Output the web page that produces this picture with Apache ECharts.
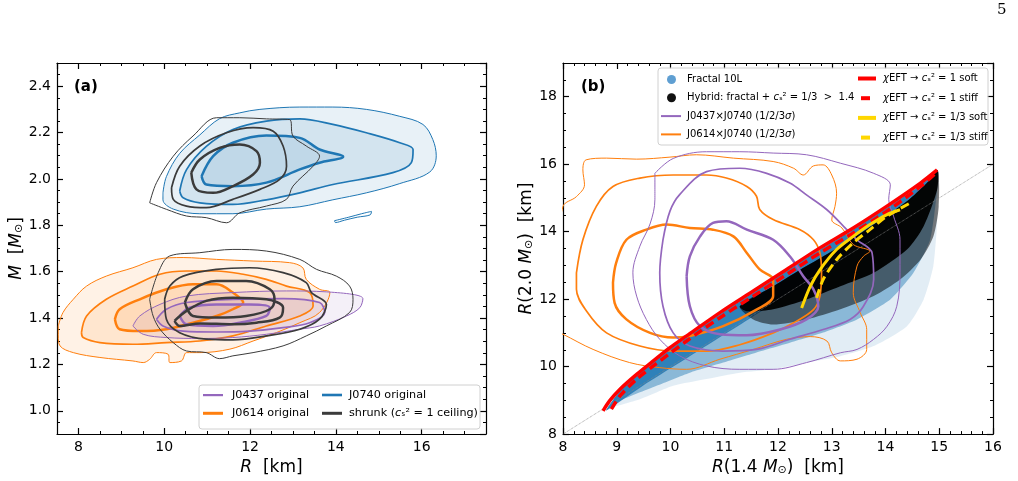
<!DOCTYPE html>
<html>
<head>
<meta charset="utf-8">
<script src="https://cdn.jsdelivr.net/npm/echarts@6/dist/echarts.min.js"></script>
<style>html,body{margin:0;background:#fff}#chart{width:1018px;height:481px}</style>
</head>
<body>
<div id="chart"></div>
<script>
var FONT = 'DejaVu Sans';
var PURPLE = '#9467bd', ORANGE = '#ff7f0e', BLUE = '#1f77b4', SHRUNK = '#3b3b3b';
var RED = '#ff0000', GOLD = '#ffd700';

// ---- panel (a): M-R contours, points are [R km, M Msun] ----
var j0740L3 = [[9.97,1.94],[10.05,2.01],[10.36,2.11],[10.83,2.19],[11.29,2.26],[11.76,2.285],[12.23,2.30],[13.16,2.31],[13.93,2.31],[14.71,2.30],[15.49,2.27],[16.03,2.235],[16.26,2.17],[16.34,2.10],[16.19,2.03],[15.49,1.98],[14.71,1.94],[13.93,1.91],[13.16,1.88],[12.38,1.87],[11.60,1.85],[10.83,1.85],[10.21,1.87],[9.97,1.91]];
var j0740Island = [[13.97,1.82],[14.3,1.835],[14.6,1.85],[14.83,1.86],[14.8,1.845],[14.5,1.835],[14.2,1.822],[13.99,1.812]];
var j0740L2 = [[10.36,1.948],[10.52,2.04],[10.98,2.14],[11.60,2.213],[12.38,2.249],[13.16,2.259],[13.93,2.235],[14.71,2.199],[15.49,2.156],[15.80,2.127],[15.76,2.07],[15.33,2.027],[13.93,1.976],[13.16,1.94],[12.38,1.91],[11.60,1.89],[10.83,1.897],[10.44,1.919]];
var j0740L1 = [[10.87,2.012],[11.14,2.098],[11.60,2.156],[12.38,2.187],[13.16,2.177],[13.62,2.127],[14.17,2.096],[13.62,2.07],[13.16,2.041],[12.38,1.984],[11.60,1.969],[10.98,1.976]];
var shrunkHiL3 = [[9.66,1.897],[9.82,1.984],[10.21,2.098],[10.67,2.185],[11.22,2.264],[11.76,2.264],[12.38,2.259],[12.92,2.256],[13.00,2.185],[13.31,2.142],[13.62,2.098],[13.47,2.055],[13.00,1.969],[12.85,1.912],[12.38,1.883],[11.76,1.854],[11.45,1.811],[10.98,1.833],[10.52,1.84],[10.05,1.869]];
var shrunkHiL2 = [[10.17,1.962],[10.36,2.055],[10.83,2.142],[11.45,2.199],[12.07,2.221],[12.54,2.206],[12.77,2.142],[12.85,2.055],[12.69,1.998],[12.23,1.955],[11.60,1.912],[10.98,1.876],[10.52,1.883],[10.21,1.912]];
var shrunkHiL1 = [[10.63,2.027],[10.83,2.084],[11.29,2.134],[11.76,2.149],[12.15,2.12],[12.23,2.07],[12.07,2.019],[11.60,1.969],[11.14,1.94],[10.75,1.955]];
var j0614L3 = [[7.53,1.366],[7.64,1.424],[7.88,1.481],[8.19,1.538],[8.65,1.581],[9.27,1.617],[9.82,1.653],[10.44,1.661],[11.22,1.653],[12.07,1.646],[12.92,1.639],[13.23,1.617],[13.31,1.567],[13.62,1.524],[13.86,1.51],[13.62,1.424],[13.16,1.38],[12.61,1.337],[12.07,1.301],[11.53,1.266],[10.83,1.251],[10.52,1.251],[10.40,1.215],[10.13,1.208],[10.09,1.244],[9.82,1.251],[9.66,1.222],[9.51,1.208],[9.27,1.215],[8.50,1.23],[7.88,1.251],[7.57,1.28],[7.53,1.323]];
var j0614L2 = [[8.07,1.337],[8.19,1.409],[8.65,1.481],[9.27,1.538],[9.90,1.589],[10.52,1.603],[11.22,1.603],[11.84,1.589],[12.38,1.567],[12.85,1.538],[13.39,1.51],[13.47,1.452],[13.16,1.409],[12.38,1.366],[11.60,1.323],[10.83,1.301],[10.05,1.294],[9.27,1.287],[8.50,1.294],[8.11,1.316]];
var j0614L1 = [[8.85,1.395],[8.96,1.438],[9.43,1.481],[10.05,1.524],[10.67,1.546],[11.22,1.546],[11.60,1.51],[11.84,1.467],[11.60,1.438],[11.22,1.409],[10.67,1.38],[10.05,1.352],[9.43,1.344],[8.96,1.352]];
var j0437L3 = [[9.27,1.366],[9.43,1.409],[9.90,1.459],[10.52,1.495],[11.60,1.51],[12.85,1.517],[13.78,1.513],[14.63,1.484],[14.56,1.445],[14.25,1.409],[13.62,1.366],[13.16,1.352],[12.38,1.33],[11.60,1.316],[10.83,1.312],[10.05,1.316],[9.51,1.33]];
var j0437L2 = [[9.82,1.395],[10.05,1.438],[10.52,1.467],[11.60,1.481],[12.77,1.484],[13.62,1.467],[13.74,1.424],[13.39,1.38],[12.77,1.359],[11.99,1.344],[11.22,1.34],[10.44,1.344],[9.97,1.366]];
var j0437L1 = [[10.36,1.409],[10.59,1.445],[11.22,1.459],[11.99,1.459],[12.46,1.445],[12.38,1.409],[11.76,1.38],[11.14,1.366],[10.52,1.373]];
var shrunkLoL3 = [[9.66,1.481],[9.86,1.596],[10.13,1.668],[10.83,1.682],[11.60,1.696],[12.38,1.689],[13.16,1.653],[13.55,1.61],[14.01,1.581],[14.32,1.538],[14.40,1.481],[14.32,1.424],[13.78,1.366],[13.31,1.323],[12.77,1.28],[12.07,1.251],[11.60,1.237],[11.29,1.225],[10.98,1.251],[10.52,1.258],[10.21,1.294],[9.90,1.352],[9.74,1.409]];
var shrunkLoL2 = [[10.01,1.481],[10.13,1.538],[10.44,1.581],[11.22,1.61],[11.99,1.617],[12.77,1.596],[13.31,1.553],[13.43,1.51],[13.78,1.459],[13.62,1.395],[13.16,1.352],[12.38,1.323],[11.60,1.306],[10.98,1.309],[10.36,1.337],[10.05,1.395]];
var shrunkLoL1a = [[10.48,1.467],[10.67,1.524],[11.22,1.56],[11.91,1.56],[12.46,1.524],[12.57,1.481],[12.46,1.438],[11.91,1.409],[11.22,1.402],[10.67,1.409]];
var shrunkLoL1b = [[10.24,1.388],[10.52,1.431],[10.98,1.474],[11.60,1.488],[12.38,1.481],[12.77,1.445],[12.69,1.402],[12.15,1.38],[11.60,1.373],[10.83,1.377],[10.36,1.366]];

// ---- panel (b): R(1.4) vs R(2.0), points are [km, km] ----
var j0614bL3 = [[7.88,13.17],[8.0,14.75],[8.25,15.04],[8.40,15.39],[8.37,15.83],[8.43,16.13],[8.81,16.18],[9.37,16.15],[9.99,16.21],[10.48,16.28],[11.17,16.18],[11.91,16.08],[12.29,15.88],[12.47,15.68],[12.66,15.95],[12.84,15.98],[13.00,15.68],[13.09,15.14],[13.06,14.75],[13.00,14.35],[13.19,14.11],[13.40,13.62],[13.71,13.42],[13.59,13.27],[13.47,12.98],[13.40,12.19],[13.53,11.60],[13.65,11.10],[13.65,10.51],[13.47,10.22],[13.16,10.17],[13.00,10.41],[12.91,10.76],[12.60,10.89],[12.16,10.81],[11.54,10.51],[10.92,10.22],[10.30,9.92],[9.80,9.97],[9.24,10.12],[8.56,10.51],[8.0,10.96],[7.81,11.10]];
var j0614bL2 = [[8.25,12.78],[8.37,13.76],[8.62,14.75],[8.93,15.34],[9.43,15.59],[10.05,15.68],[10.67,15.68],[11.04,15.59],[11.42,15.34],[11.60,15.05],[11.66,14.66],[11.91,14.36],[12.41,14.06],[12.66,13.76],[12.78,13.37],[12.81,12.78],[12.78,12.09],[12.66,11.69],[12.29,11.30],[11.91,11.00],[11.29,10.65],[10.67,10.46],[10.05,10.46],[9.43,10.61],[8.81,11.0],[8.44,11.64],[8.25,12.29]];
var j0614bL1 = [[8.93,12.49],[8.99,13.08],[9.18,13.76],[9.55,14.06],[9.93,14.21],[10.36,14.11],[10.79,14.06],[11.17,13.86],[11.42,13.37],[11.66,12.88],[11.91,12.58],[11.91,12.09],[11.60,11.69],[10.98,11.20],[10.36,10.91],[10.05,10.86],[9.62,11.00],[9.18,11.40],[8.96,11.89]];
var j0437bL3 = [[9.71,15.73],[10.05,16.17],[10.67,16.37],[11.29,16.37],[11.91,16.33],[12.53,16.28],[13.16,16.03],[13.78,15.73],[14.09,15.39],[14.06,14.96],[14.15,14.46],[14.27,13.76],[14.27,12.78],[14.21,11.79],[14.03,11.20],[13.78,10.81],[13.47,10.51],[13.16,10.41],[12.53,10.12],[11.91,9.92],[11.29,9.92],[10.67,10.02],[10.17,10.32],[9.80,10.81],[9.55,11.40],[9.37,12.09],[9.30,12.78],[9.43,13.57],[9.62,14.23],[9.71,14.96]];
var j0437bL2 = [[9.86,13.76],[9.99,14.61],[10.17,15.10],[10.67,15.78],[11.29,15.88],[11.79,15.73],[12.22,15.44],[12.53,15.09],[12.91,14.65],[13.22,14.16],[13.47,13.76],[13.75,13.37],[13.78,12.58],[13.59,11.79],[13.34,11.40],[12.84,11.10],[12.22,10.81],[11.60,10.51],[10.98,10.46],[10.36,10.61],[10.05,11.0],[9.86,11.79],[9.80,12.78]];
var j0437bL1 = [[10.30,12.68],[10.36,13.27],[10.55,13.86],[10.79,14.26],[11.04,14.31],[11.42,14.06],[11.91,13.76],[12.22,13.27],[12.47,12.68],[12.66,12.29],[12.75,11.79],[12.53,11.40],[12.04,11.10],[11.42,10.93],[10.92,10.96],[10.55,11.20],[10.36,11.79]];
var rSoft1 = [[8.745,8.69],[8.87,8.99],[9.06,9.33],[9.37,9.77],[9.68,10.17],[9.99,10.56],[10.30,10.91],[10.92,11.60],[11.54,12.24],[12.16,12.88],[12.78,13.52],[13.40,14.11],[14.02,14.75],[14.65,15.44],[14.96,15.83]];
var rStiff1 = [[8.90,8.74],[9.06,9.13],[9.37,9.63],[9.68,10.02],[10.30,10.76],[10.92,11.45],[11.54,12.09],[12.16,12.73],[12.78,13.37],[13.40,13.96],[14.02,14.60],[14.65,15.34],[14.93,15.73]];
var ySoft3 = [[12.44,11.74],[12.60,12.38],[12.78,12.87],[13.09,13.47],[13.40,13.86],[13.71,14.21],[14.02,14.50],[14.27,14.65]];
var yStiff3 = [[12.72,12.04],[12.84,12.58],[13.09,13.17],[13.40,13.67],[13.71,14.06],[14.02,14.45],[14.46,14.85]];
var diagonal = [[8,8],[16,16]];
// scatter cloud outlines (upper edge left->right, lower edges right->left)
var cloudTop = [[8.80,8.70],[9.06,9.28],[9.37,9.72],[9.68,10.12],[9.99,10.50],[10.30,10.86],[10.92,11.55],[11.54,12.19],[12.16,12.83],[12.78,13.47],[13.40,14.06],[14.02,14.70],[14.65,15.38],[14.96,15.78]];
var sparseLow = [[14.99,15.73],[14.96,14.26],[14.89,12.98],[14.71,11.99],[14.40,11.20],[13.78,10.61],[13.16,10.31],[12.53,10.12],[11.91,9.92],[11.29,9.82],[10.67,9.63],[10.05,9.43],[9.43,9.03],[8.81,8.74]];
var denseLow = [[14.96,15.24],[14.83,13.76],[14.52,12.78],[14.09,11.99],[13.47,11.40],[12.84,11.01],[12.22,10.71],[11.60,10.42],[10.98,10.12],[10.36,9.82],[9.74,9.43],[8.99,8.94]];
var bandLow = [[14.9,15.6],[14.0,14.25],[13.0,13.05],[12.5,12.45],[12.0,11.95],[11.5,11.45],[11.0,10.95],[10.5,10.45],[10.0,9.95],[9.5,9.45],[9.0,8.9]];
var blackTop = [[11.29,11.79],[11.91,12.38],[12.53,12.98],[13.16,13.57],[13.78,14.21],[14.40,14.90],[14.77,15.44],[14.97,15.83]];
var blackHaloLow = [[14.99,14.75],[14.89,13.86],[14.65,13.17],[14.27,12.58],[13.78,12.09],[13.16,11.70],[12.53,11.40],[11.91,11.25],[11.54,11.40]];
var blackCoreLow = [[14.96,15.24],[14.71,14.16],[14.40,13.47],[13.78,12.78],[13.16,12.38],[12.53,11.99],[11.91,11.70],[11.42,11.64]];

var legendText = {
  'shrunk': 'shrunk ({i|c}ₛ² = 1 ceiling)',
  'Hybrid': 'Hybrid: fractal + {i|c}ₛ² = 1/3  >  1.4',
  'J0437xJ0740': 'J0437×J0740 (1/2/3{i|σ})',
  'J0614xJ0740': 'J0614×J0740 (1/2/3{i|σ})',
  'soft1': '{i|χ}EFT → {i|c}ₛ² = 1 soft',
  'stiff1': '{i|χ}EFT → {i|c}ₛ² = 1 stiff',
  'soft3': '{i|χ}EFT → {i|c}ₛ² = 1/3 soft',
  'stiff3': '{i|χ}EFT → {i|c}ₛ² = 1/3 stiff'
};

var nameStyle = {
  fontFamily: FONT, fontSize: 17, color: '#000',
  rich: {
    i: {fontFamily: FONT, fontSize: 17, fontStyle: 'italic', color: '#000'},
    s: {fontFamily: FONT, fontSize: 11, color: '#000', padding: [5, 0, 0, 0]}
  }
};

function axisSet(dim, grid, min, max, major, minor, name, gap, opt) {
  var side = dim === 'x' ? ['bottom', 'top'] : ['left', 'right'];
  function base(pos) {
    return {type: 'value', gridIndex: grid, min: min, max: max, position: pos, splitLine: {show: false}};
  }
  var main = base(side[0]);
  main.minInterval = major; main.maxInterval = major;
  main.splitNumber = Math.round((max - min) / major);
  main.axisLine = {show: true, onZero: false, lineStyle: {color: '#000', width: 1.2}};
  main.axisTick = {show: true, inside: true, length: 6, lineStyle: {color: '#000', width: 1.2}};
  main.axisLabel = {show: true, margin: 6, fontSize: 14, color: '#000', fontFamily: FONT,
    showMinLabel: opt.showMin, showMaxLabel: opt.showMax, formatter: opt.fmt};
  main.name = name; main.nameLocation = 'middle'; main.nameGap = gap; main.nameTextStyle = nameStyle;

  var mirror = base(side[1]);
  mirror.minInterval = major; mirror.maxInterval = major;
  mirror.splitNumber = main.splitNumber;
  mirror.axisLine = {show: true, onZero: false, lineStyle: {color: '#000', width: 1.2}};
  mirror.axisTick = {show: true, inside: true, length: 6, lineStyle: {color: '#000', width: 1.2}};
  mirror.axisLabel = {show: false};

  var out = [main];
  [side[0], side[1]].forEach(function(pos) {
    var m = base(pos);
    m.interval = minor;
    m.axisLine = {show: false, onZero: false};
    m.axisTick = {show: true, inside: true, length: 3, lineStyle: {color: '#000', width: 1}};
    m.axisLabel = {show: false};
    out.push(m);
  });
  out.push(mirror);
  return out;   // [main, minor, minorMirror, mirror]
}

var fmt1 = function(v) { return v.toFixed(1); };
var fmt0 = function(v) { return String(Math.round(v)); };
var xAxes = axisSet('x', 0, 7.5, 17.5, 2, 0.5, '{i|R}  [km]', 21, {showMin: false, showMax: false, fmt: fmt0})
  .concat(axisSet('x', 1, 8, 16, 1, 0.2, '{i|R}(1.4 {i|M}{s|⊙})  [km]', 21, {showMin: true, showMax: true, fmt: fmt0}));
var yAxes = axisSet('y', 0, 0.9, 2.5, 0.2, 0.05, '{i|M}  [{i|M}{s|⊙}]', 30, {showMin: false, showMax: false, fmt: fmt1})
  .concat(axisSet('y', 1, 8, 19, 2, 0.5, '{i|R}(2.0 {i|M}{s|⊙})  [km]', 26, {showMin: true, showMax: false, fmt: fmt0}));

function contour(name, pts, color, width, ax) {
  return {type: 'line', name: name, xAxisIndex: ax, yAxisIndex: ax, data: pts.concat([pts[0]]),
    symbol: 'none', showSymbol: false, smooth: 0.35, silent: true,
    lineStyle: {color: color, width: width}, itemStyle: {color: color}};
}
function curve(name, pts, color, width, ax, dash) {
  return {type: 'line', name: name, xAxisIndex: ax, yAxisIndex: ax, data: pts,
    symbol: 'none', showSymbol: false, smooth: 0.3, silent: true,
    lineStyle: {color: color, width: width, type: dash || 'solid'}, itemStyle: {color: color}};
}
function area(name, pts, color, ax, smooth) {
  return {type: 'custom', name: name, xAxisIndex: ax, yAxisIndex: ax, data: [pts[0]], silent: true,
    renderItem: function(params, api) {
      return {type: 'polygon', shape: {points: pts.map(function(p) { return api.coord(p); }), smooth: smooth},
        style: {fill: color}};
    }};
}

var series = [
  // (a) filled contours
  area('J0614 original', j0614L3, 'rgba(255,127,14,0.1)', 0, 0.35),
  area('J0614 original', j0614L2, 'rgba(255,127,14,0.1)', 0, 0.35),
  area('J0614 original', j0614L1, 'rgba(255,127,14,0.1)', 0, 0.35),
  area('J0437 original', j0437L3, 'rgba(148,103,189,0.1)', 0, 0.35),
  area('J0437 original', j0437L2, 'rgba(148,103,189,0.1)', 0, 0.35),
  area('J0437 original', j0437L1, 'rgba(148,103,189,0.1)', 0, 0.35),
  area('J0740 original', j0740L3, 'rgba(31,119,180,0.1)', 0, 0.35),
  area('J0740 original', j0740L2, 'rgba(31,119,180,0.1)', 0, 0.35),
  area('J0740 original', j0740L1, 'rgba(31,119,180,0.1)', 0, 0.35),
  contour('J0614 original', j0614L3, ORANGE, 1, 0),
  contour('J0614 original', j0614L2, ORANGE, 1.7, 0),
  contour('J0614 original', j0614L1, ORANGE, 2.5, 0),
  contour('J0437 original', j0437L3, PURPLE, 1, 0),
  contour('J0437 original', j0437L2, PURPLE, 1.7, 0),
  contour('J0437 original', j0437L1, PURPLE, 2.5, 0),
  contour('J0740 original', j0740L3, BLUE, 1, 0),
  contour('J0740 original', j0740Island, BLUE, 1, 0),
  contour('J0740 original', j0740L2, BLUE, 1.7, 0),
  contour('J0740 original', j0740L1, BLUE, 2.5, 0),
  contour('shrunk', shrunkHiL3, SHRUNK, 1, 0),
  contour('shrunk', shrunkHiL2, SHRUNK, 1.7, 0),
  contour('shrunk', shrunkHiL1, SHRUNK, 2.5, 0),
  contour('shrunk', shrunkLoL3, SHRUNK, 1, 0),
  contour('shrunk', shrunkLoL2, SHRUNK, 1.7, 0),
  contour('shrunk', shrunkLoL1a, SHRUNK, 2.5, 0),
  contour('shrunk', shrunkLoL1b, SHRUNK, 2.5, 0),
  // (b) sample clouds
  curve('diag', diagonal, '#888', 0.8, 4, 'dotted'),
  area('Fractal 10L', cloudTop.concat(sparseLow), 'rgba(31,119,180,0.13)', 4, 0.2),
  area('fractal dense', cloudTop.concat(denseLow), 'rgba(31,119,180,0.45)', 4, 0.2),
  area('fractal band', cloudTop.concat(bandLow), 'rgba(31,119,180,0.85)', 4, 0.2),
  area('hybrid halo', blackTop.concat(blackHaloLow), 'rgba(0,0,0,0.5)', 4, 0.25),
  area('Hybrid', blackTop.concat(blackCoreLow), 'rgba(0,0,0,0.95)', 4, 0.25),
  // (b) joint contours
  contour('J0614xJ0740', j0614bL3, ORANGE, 1, 4),
  contour('J0614xJ0740', j0614bL2, ORANGE, 1.7, 4),
  contour('J0614xJ0740', j0614bL1, ORANGE, 2.5, 4),
  contour('J0437xJ0740', j0437bL3, PURPLE, 1, 4),
  contour('J0437xJ0740', j0437bL2, PURPLE, 1.7, 4),
  contour('J0437xJ0740', j0437bL1, PURPLE, 2.5, 4),
  // (b) chiEFT curves
  curve('soft1', rSoft1, RED, 3.5, 4),
  curve('stiff1', rStiff1, RED, 3.5, 4, [9, 5]),
  curve('soft3', ySoft3, GOLD, 3, 4),
  curve('stiff3', yStiff3, GOLD, 3, 4, [9, 5])
];

var legendRich = function(size) {
  return {fontSize: size, fontFamily: FONT, color: '#000',
    rich: {i: {fontSize: size, fontFamily: FONT, fontStyle: 'italic', color: '#000'}}};
};
function legend(left, top, w, h, gap, size, items) {
  return {left: left, top: top, orient: 'vertical', padding: 0, itemWidth: w, itemHeight: h, itemGap: gap,
    selectedMode: false, textStyle: legendRich(size),
    formatter: function(n) { return legendText[n] || n; },
    data: items.map(function(it) { return {name: it[0], icon: it[1], itemStyle: {color: it[2], borderWidth: 0}}; })};
}

var option = {
  animation: false,
  backgroundColor: '#fff',
  grid: [
    {left: 57, top: 63, width: 429, height: 371},
    {left: 563, top: 63, width: 430, height: 372}
  ],
  xAxis: xAxes,
  yAxis: yAxes,
  legend: [
    legend(203, 388, 24, 14, 4.3, 11.2, [
      ['J0437 original', 'path://M0,0M24,14M0,6h20v2.2h-20z', PURPLE],
      ['J0614 original', 'path://M0,0M24,14M0,5.5h20v3h-20z', ORANGE]]),
    legend(322, 388, 22, 14, 4.3, 11.2, [
      ['J0740 original', 'path://M0,0M22,14M0,5.7h20v2.6h-20z', BLUE],
      ['shrunk', 'path://M0,0M22,14M0,5.5h20v3h-20z', SHRUNK]]),
    legend(661, 74.5, 21, 9, 8.3, 10, [
      ['Fractal 10L', 'circle', '#5f9fd2'],
      ['Hybrid', 'circle', '#111'],
      ['J0437xJ0740', 'path://M0,0M21,9M0,3.5h20v2h-20z', PURPLE],
      ['J0614xJ0740', 'path://M0,0M21,9M0,3.5h20v2h-20z', ORANGE]]),
    legend(858, 73.5, 20, 9, 9.7, 10, [
      ['soft1', 'path://M0,0M20,9M0,2.5h18v4h-18z', RED],
      ['stiff1', 'path://M0,0M20,9M3,2.5h9v4h-9z', RED],
      ['soft3', 'path://M0,0M20,9M0,2.5h18v4h-18z', GOLD],
      ['stiff3', 'path://M0,0M20,9M3,2.5h9v4h-9z', GOLD]])
  ],
  graphic: [
    {type: 'rect', z: 3, shape: {x: 199, y: 385, width: 281, height: 44, r: 3},
      style: {fill: 'rgba(255,255,255,0.8)', stroke: '#d0d0d0', lineWidth: 1}},
    {type: 'rect', z: 3, shape: {x: 658, y: 68, width: 330, height: 77, r: 3},
      style: {fill: 'rgba(255,255,255,0.8)', stroke: '#d0d0d0', lineWidth: 1}},
    {type: 'text', z: 5, left: 74, top: 80, style: {text: '(a)', fontFamily: FONT, fontSize: 15, fontWeight: 'bold', fill: '#000'}},
    {type: 'text', z: 5, left: 581, top: 80, style: {text: '(b)', fontFamily: FONT, fontSize: 15, fontWeight: 'bold', fill: '#000'}},
    {type: 'text', z: 5, left: 997, top: 3, style: {text: '5', fontFamily: 'DejaVu Serif', fontSize: 15, fill: '#000'}}
  ],
  series: series
};

var chart = echarts.init(document.getElementById('chart'));
chart.setOption(option);
window.addEventListener('resize', function() { chart.resize(); });
</script>
</body>
</html>
